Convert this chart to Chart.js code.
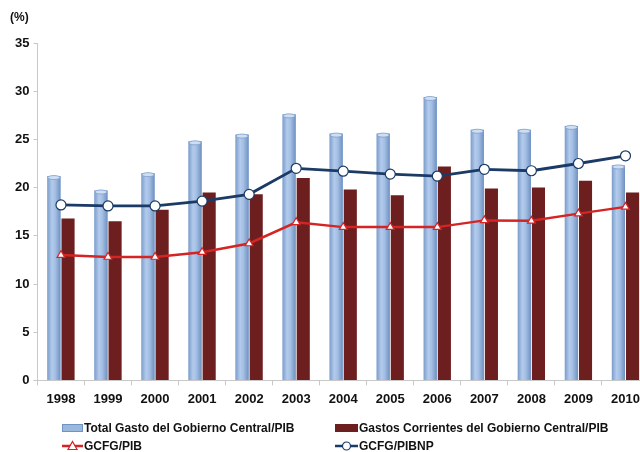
<!DOCTYPE html>
<html>
<head>
<meta charset="utf-8">
<script src="https://cdn.jsdelivr.net/npm/chart.js@4.4.1/dist/chart.umd.min.js"></script>
<style>
  html, body { margin:0; padding:0; background:#fff; overflow:hidden; width:640px; height:452px; }
  #wrap { position:absolute; left:0; top:0; width:660px; height:452px; }
  #unit { position:absolute; left:10px; top:10px; font:bold 12px "Liberation Sans", Arial, sans-serif; color:#111; }
  .lg { position:absolute; font:bold 12px "Liberation Sans", Arial, sans-serif; color:#111; white-space:nowrap; display:flex; align-items:center; height:16px; }
  .lg svg { margin-right:1px; }
</style>
</head>
<body>
<div id="wrap"><canvas id="c" width="660" height="452"></canvas></div>
<div id="unit">(%)</div>
<div id="legend"></div>
<script>
const categories = ['1998','1999','2000','2001','2002','2003','2004','2005','2006','2007','2008','2009','2010'];
const totalGasto = [21.2, 19.7, 21.5, 24.8, 25.5, 27.6, 25.6, 25.6, 29.4, 26.0, 26.0, 26.4, 22.3];
const gastosCorrientes = [16.8, 16.5, 17.7, 19.5, 19.3, 21.0, 19.8, 19.2, 22.2, 19.9, 20.0, 20.7, 19.5];
const gcfgPib = [13.0, 12.8, 12.8, 13.3, 14.2, 16.4, 15.9, 15.9, 15.9, 16.6, 16.55, 17.3, 18.0];
const gcfgPibnp = [18.2, 18.1, 18.1, 18.6, 19.3, 22.0, 21.7, 21.4, 21.2, 21.9, 21.75, 22.5, 23.3];
const yTicks = [0, 5, 10, 15, 20, 25, 30, 35];
const seriesNames = ['Total Gasto del Gobierno Central/PIB', 'Gastos Corrientes del Gobierno Central/PIB', 'GCFG/PIB', 'GCFG/PIBNP'];

const BLUE_BAR = '#9ab8de', BLUE_BAR_EDGE = '#6f93c4';
const RED_BAR = '#6d1f1f';
const RED_LINE = '#d42424';
const NAVY_LINE = '#1b3a66';

// cylinder shading over the blue bars, using the bar elements laid out by Chart.js
const cylinderPlugin = {
  id: 'cylinder',
  afterDatasetDraw(chart, args) {
    if (args.index !== 0) return;
    const c = chart.ctx;
    const meta = args.meta;
    meta.data.forEach(el => {
      const { x, y, base, width } = el.getProps(['x', 'y', 'base', 'width'], true);
      const l = x - width / 2, r = x + width / 2;
      const g = c.createLinearGradient(l, 0, r, 0);
      g.addColorStop(0, '#7c9dcb');
      g.addColorStop(0.35, '#b3cbec');
      g.addColorStop(0.6, '#a4bfe4');
      g.addColorStop(1, '#6e90c0');
      c.save();
      c.fillStyle = g;
      c.fillRect(l, y, width, base - y);
      c.beginPath();
      c.ellipse(x, y + 1.5, width / 2 - 0.5, 2, 0, 0, Math.PI * 2);
      c.fillStyle = '#cfdff3';
      c.fill();
      c.strokeStyle = '#7c9dcb';
      c.lineWidth = 0.8;
      c.stroke();
      c.restore();
    });
  }
};

const ctx = document.getElementById('c').getContext('2d');
new Chart(ctx, {
  type: 'bar',
  data: {
    labels: categories,
    datasets: [
      { type:'bar', label: seriesNames[0], data: totalGasto, backgroundColor: BLUE_BAR, borderColor: BLUE_BAR_EDGE, borderWidth: 0, order: 2,
        categoryPercentage: 0.6, barPercentage: 0.93 },
      { type:'bar', label: seriesNames[1], data: gastosCorrientes, backgroundColor: RED_BAR, borderColor: RED_BAR, borderWidth: 0, order: 2,
        categoryPercentage: 0.6, barPercentage: 0.93 },
      { type:'line', label: seriesNames[2], data: gcfgPib, borderColor: RED_LINE, borderWidth: 2.5, pointStyle: 'triangle',
        pointRadius: 4.5, pointBackgroundColor: '#fff', pointBorderColor: RED_LINE, pointBorderWidth: 1.2, tension: 0, order: 1 },
      { type:'line', label: seriesNames[3], data: gcfgPibnp, borderColor: NAVY_LINE, borderWidth: 2.8, pointStyle: 'circle',
        pointRadius: 5, pointBackgroundColor: '#fff', pointBorderColor: NAVY_LINE, pointBorderWidth: 1.2, tension: 0, order: 0 }
    ]
  },
  plugins: [cylinderPlugin],
  options: {
    responsive: false,
    animation: false,
    devicePixelRatio: 1,
    layout: { padding: { left: 11, right: 11, top: 43, bottom: 39 } },
    plugins: { legend: { display: false }, tooltip: { enabled: false }, title: { display: false } },
    scales: {
      x: {
        offset: true,
        grid: { display: true, offset: true, drawOnChartArea: false, tickLength: 5, color: '#c8c8c8' },
        border: { display: true, color: '#c8c8c8', width: 1 },
        ticks: { color: '#111', padding: 6, font: { family: '"Liberation Sans", Arial, sans-serif', size: 13, weight: 'bold' }, maxRotation: 0 }
      },
      y: {
        min: 0, max: 35,
        afterBuildTicks: (axis) => { axis.ticks = yTicks.map(v => ({ value: v })); },
        grid: { display: true, drawOnChartArea: false, tickLength: 4, color: '#c8c8c8' },
        border: { display: true, color: '#c8c8c8', width: 1 },
        ticks: { color: '#111', padding: 4, font: { family: '"Liberation Sans", Arial, sans-serif', size: 13, weight: 'bold' } }
      }
    }
  }
});

// HTML legend (two-column grid as in the reference)
const legendEl = document.getElementById('legend');
const pos = [[62, 420], [335, 420], [62, 438], [335, 438]];
function swatch(i) {
  if (i === 0) return `<svg width="21" height="10"><rect x="0.5" y="1.5" width="20" height="7" fill="${BLUE_BAR}" stroke="${BLUE_BAR_EDGE}" stroke-width="1"/></svg>`;
  if (i === 1) return `<svg width="23" height="10"><rect x="0" y="1" width="23" height="8" fill="${RED_BAR}"/></svg>`;
  if (i === 2) return `<svg width="21" height="12"><line x1="0" y1="6" x2="21" y2="6" stroke="${RED_LINE}" stroke-width="2.5"/><polygon points="10.5,1.5 15,9.5 6,9.5" fill="#fff" stroke="${RED_LINE}" stroke-width="1.2"/></svg>`;
  return `<svg width="23" height="12"><line x1="0" y1="6" x2="23" y2="6" stroke="${NAVY_LINE}" stroke-width="2.5"/><circle cx="11.5" cy="6" r="4" fill="#fff" stroke="${NAVY_LINE}" stroke-width="1.2"/></svg>`;
}
seriesNames.forEach((name, i) => {
  const d = document.createElement('div');
  d.className = 'lg';
  d.style.left = pos[i][0] + 'px';
  d.style.top = pos[i][1] + 'px';
  d.innerHTML = swatch(i) + '<span>' + name + '</span>';
  legendEl.appendChild(d);
});
</script>
</body>
</html>
